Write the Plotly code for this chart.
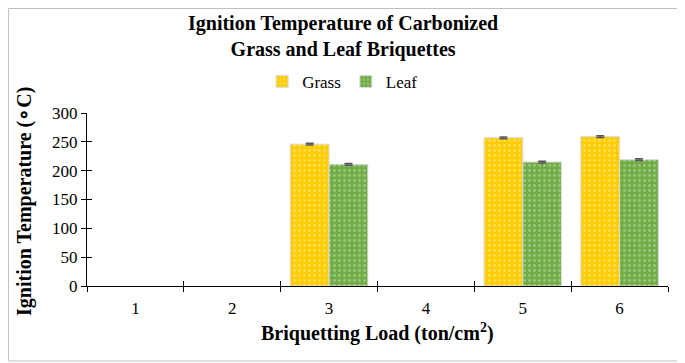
import plotly.graph_objects as go

categories = ["1", "2", "3", "4", "5", "6"]
grass = [None, None, 246, None, 257, 259]
leaf = [None, None, 211, None, 215, 219]
grass_err = [0, 0, 1.5, 0, 1.5, 1.5]
leaf_err = [0, 0, 1.5, 0, 1.5, 1.5]
y_ticks = [0, 50, 100, 150, 200, 250, 300]

fig = go.Figure()
fig.add_bar(x=categories, y=grass, name="Grass",
            marker=dict(color="#FFCC00", line=dict(color="#D9D9D9", width=1),
                        pattern=dict(shape=".", fgcolor="#FFF2B3", size=5, solidity=0.25)),
            error_y=dict(type="data", array=grass_err, color="#595959", thickness=1.5, width=4))
fig.add_bar(x=categories, y=leaf, name="Leaf",
            marker=dict(color="#70AD47", line=dict(color="#D9D9D9", width=1),
                        pattern=dict(shape=".", fgcolor="#C5E0B4", size=5, solidity=0.25)),
            error_y=dict(type="data", array=leaf_err, color="#595959", thickness=1.5, width=4))

font_family = "Liberation Serif"
# page body has an 8px margin, so the figure is sized to fill the rest of the window
fig.update_layout(
    width=677, height=355,
    margin=dict(l=79, r=17, t=105, b=77, autoexpand=False),
    paper_bgcolor="white", plot_bgcolor="white",
    font=dict(family=font_family, color="black"),
    barmode="group", bargap=0.2, bargroupgap=0,
    legend=dict(orientation="h", x=0.44, xanchor="center", y=1.179, yanchor="middle",
                font=dict(size=17, family=font_family), itemwidth=30, traceorder="normal"),
    showlegend=True,
)
fig.update_xaxes(
    type="category", showline=True, linecolor="black", linewidth=1,
    ticks="outside", tickson="boundaries", ticklen=5, tickcolor="black",
    tickfont=dict(size=17, family=font_family), ticklabelstandoff=7,
    showgrid=False, automargin=False,
)
fig.update_yaxes(
    range=[0, 300], tickvals=y_ticks, showline=True, linecolor="black", linewidth=1,
    ticks="outside", ticklen=5, tickcolor="black",
    tickfont=dict(size=17, family=font_family),
    showgrid=False, zeroline=False, automargin=False,
)
# inside ticks overlay to make crossing tick marks
fig.update_layout(
    yaxis2=dict(overlaying="y", range=[0, 300], tickvals=y_ticks, ticks="inside", ticklen=5,
                tickcolor="black", showticklabels=False, showgrid=False, zeroline=False,
                showline=False, side="left", automargin=False),
    xaxis2=dict(overlaying="x", range=[-0.5, 5.5], tickvals=[-0.5, 0.5, 1.5, 2.5, 3.5, 4.5, 5.5],
                ticks="inside", ticklen=5, tickcolor="black", showticklabels=False,
                showgrid=False, zeroline=False, showline=False, side="bottom", automargin=False),
)
fig.add_scatter(x=[None], y=[None], xaxis="x2", yaxis="y2", showlegend=False, hoverinfo="skip")

fig.add_annotation(text="<b>Ignition Temperature of Carbonized<br>Grass and Leaf Briquettes</b>",
                   xref="paper", yref="paper", x=0.44, y=1.445, xanchor="center", yanchor="middle",
                   showarrow=False, font=dict(size=20, family=font_family, color="black"))
fig.add_annotation(text="<b>Briquetting Load (ton/cm<sup>2</sup>)</b>",
                   xref="paper", yref="paper", x=0.5, y=-0.266, xanchor="center", yanchor="middle",
                   showarrow=False, font=dict(size=20, family=font_family, color="black"))
fig.add_annotation(text="<b>Ignition Temperature (\u2218C)</b>", textangle=-90,
                   xref="paper", yref="paper", x=-0.1067, y=0.486, xanchor="center", yanchor="middle",
                   showarrow=False, font=dict(size=20, family=font_family, color="black"))
fig.add_shape(type="rect", xref="paper", yref="paper", x0=-0.135, x1=1.0258, y0=-0.4335, y1=1.604,
              line=dict(color="#BFBFBF", width=1))

fig.write_html("out.html")
